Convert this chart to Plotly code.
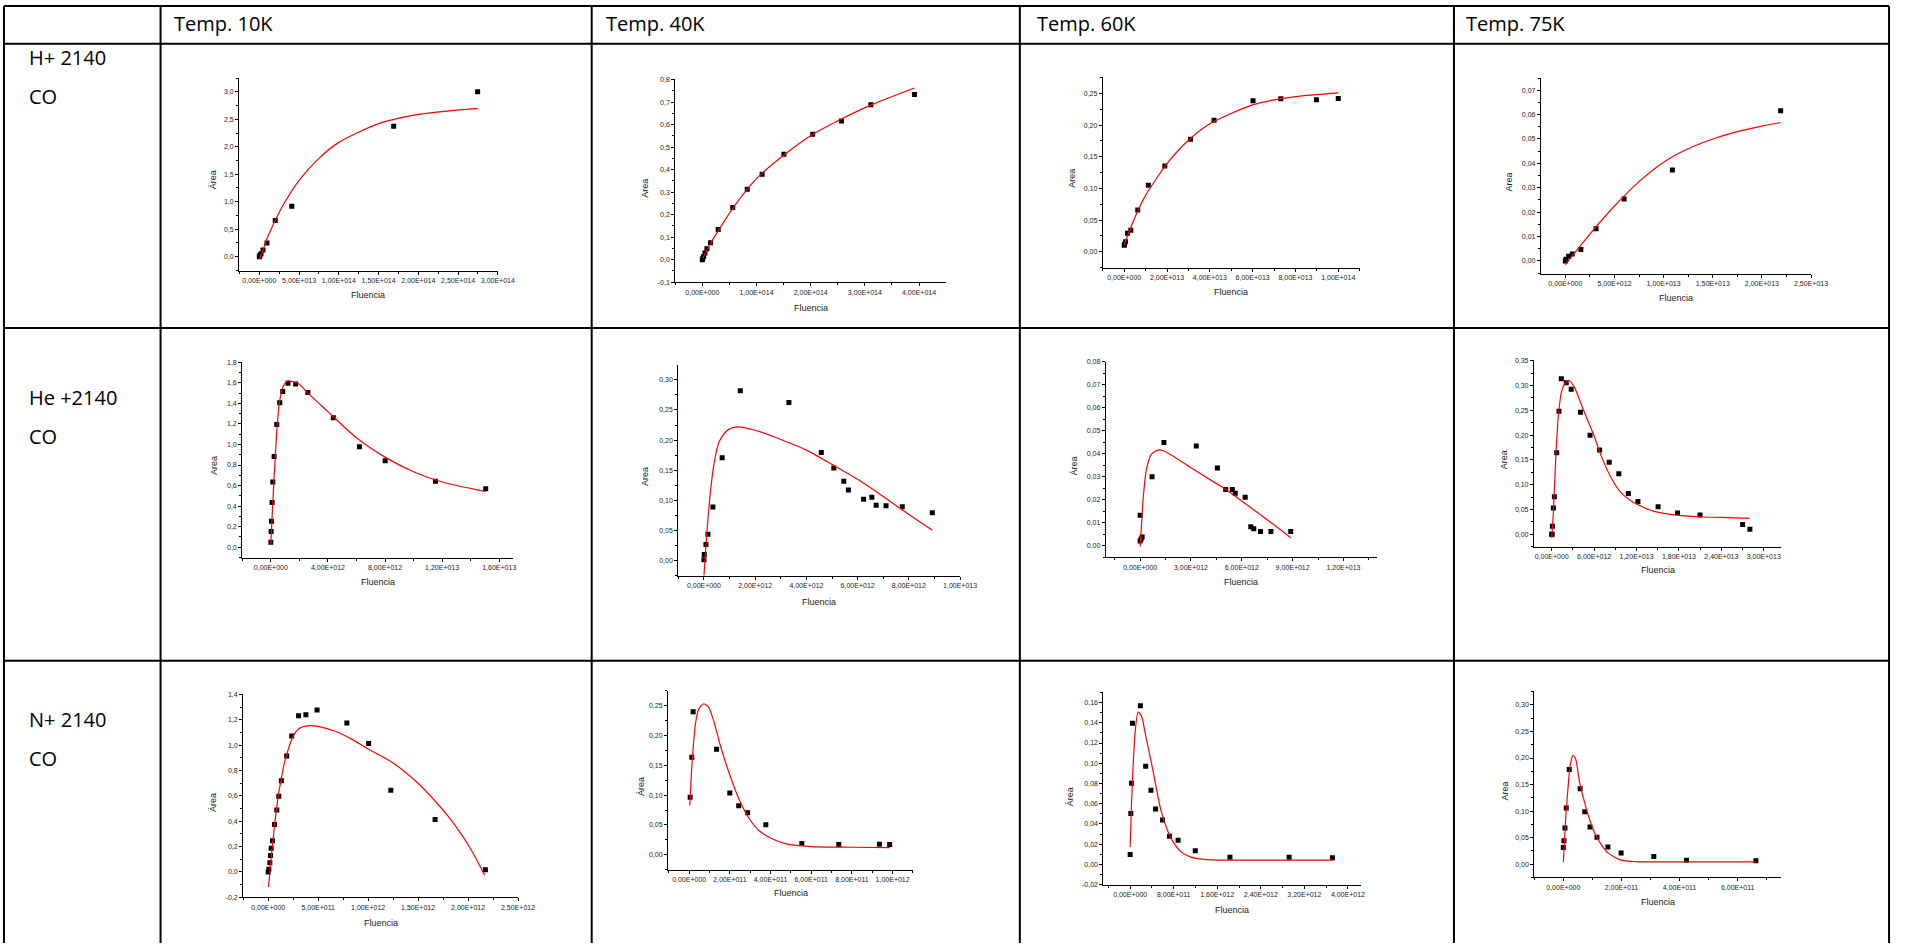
import plotly.graph_objects as go

W, H = 1910, 946

# ---------------- table text ----------------
col_headers = ["Temp. 10K", "Temp. 40K", "Temp. 60K", "Temp. 75K"]
row_labels = [["H+ 2140", "CO"], ["He +2140", "CO"], ["N+ 2140", "CO"]]

# ---------------- data: H+ ----------------
h10k_x = [0, 8e11, 2.1e12, 4.6e12, 9.6e12, 2.0e13, 4.08e13, 1.69e14, 2.746e14]
h10k_y = [0.0, 0.024, 0.054, 0.12, 0.247, 0.657, 0.916, 2.373, 3.0]
h10k_fit_x = [0, 4e12, 1e13, 2e13, 3e13, 5e13, 7.5e13, 1e14, 1.5e14, 2e14, 2.746e14]
h10k_fit_y = [-0.04, 0.1, 0.34, 0.657, 0.94, 1.39, 1.79, 2.08, 2.42, 2.59, 2.70]

h40k_x = [0, 6e11, 2.4e12, 4.9e12, 8.5e12, 1.52e13, 2.93e13, 5.61e13, 8.29e13, 1.104e14,
          1.506e14, 2.037e14, 2.567e14, 3.11e14, 3.915e14]
h40k_y = [0.0, 0.0044, 0.0147, 0.0294, 0.0485, 0.075, 0.1338, 0.2324, 0.3132, 0.3794,
          0.4691, 0.5574, 0.6162, 0.6882, 0.7338]
h40k_fit_x = [1e12, 1.5e13, 2.93e13, 5.61e13, 1e14, 1.506e14, 2e14, 2.567e14, 3.11e14, 3.915e14]
h40k_fit_y = [0.008, 0.072, 0.128, 0.228, 0.36, 0.465, 0.551, 0.625, 0.687, 0.763]

h60k_x = [0, 1.5e11, 6.2e11, 1.54e12, 3.09e12, 6.33e12, 1.127e13, 1.898e13, 3.102e13, 4.198e13,
          6.019e13, 7.315e13, 8.981e13, 1.0e14]
h60k_y = [0.0105, 0.0115, 0.0157, 0.0293, 0.034, 0.0659, 0.1051, 0.1355, 0.1778, 0.2076,
          0.2385, 0.2416, 0.24, 0.2422]
h60k_fit_x = [0, 5e12, 1e13, 2e13, 3e13, 4e13, 6e13, 8e13, 1e14]
h60k_fit_y = [0.011, 0.054, 0.089, 0.139, 0.176, 0.202, 0.232, 0.245, 0.251]

h75k_x = [0, 6.7e10, 3.4e11, 7.1e11, 1.58e12, 3.13e12, 5.98e12, 1.089e13, 2.191e13]
h75k_y = [0.0, 0.0007, 0.0019, 0.0028, 0.0047, 0.0132, 0.0254, 0.0373, 0.0616]
h75k_fit_x = [0, 2.5e12, 5e12, 7.5e12, 1e13, 1.25e13, 1.5e13, 1.75e13, 2e13, 2.19e13]
h75k_fit_y = [-0.0015, 0.011, 0.0225, 0.0325, 0.0405, 0.046, 0.050, 0.053, 0.0553, 0.0567]

# ---------------- data: He ----------------
he10k_x = [0, 2.3e10, 4.6e10, 9.3e10, 1.39e11, 2.32e11, 4.17e11, 6.25e11, 8.34e11, 1.204e12,
           1.737e12, 2.593e12, 4.376e12, 6.205e12, 8.012e12, 1.1531e13, 1.5051e13]
he10k_y = [0.048, 0.152, 0.252, 0.435, 0.635, 0.884, 1.194, 1.406, 1.516, 1.597,
           1.59, 1.506, 1.261, 0.977, 0.842, 0.642, 0.568]
he10k_fit_x = [0, 1.16e11, 3e11, 4.6e11, 6.25e11, 8.6e11, 1.2e12, 1.5e12, 2e12, 2.6e12,
               4e12, 6e12, 8e12, 1e13, 1.2e13, 1.505e13]
he10k_fit_y = [0.03, 0.371, 0.855, 1.21, 1.43, 1.565, 1.62, 1.613, 1.587, 1.5,
               1.32, 1.065, 0.877, 0.735, 0.635, 0.542]

he40k_x = [0, 1.3e10, 7.7e10, 1.55e11, 3.48e11, 7.1e11, 1.419e12, 3.316e12, 4.581e12, 5.071e12,
           5.458e12, 5.639e12, 6.232e12, 6.555e12, 6.723e12, 7.11e12, 7.742e12, 8.916e12]
he40k_y = [0.0011, 0.0099, 0.0264, 0.0435, 0.0886, 0.1706, 0.2818, 0.2626, 0.1794, 0.1536,
           0.1316, 0.1172, 0.1018, 0.1051, 0.0919, 0.0908, 0.0892, 0.0793]
he40k_fit_x = [0, 1.2e11, 2.5e11, 3.9e11, 5.8e11, 9e11, 1.3e12, 2e12, 3e12, 4e12,
               5e12, 6e12, 7e12, 8e12, 8.92e12]
he40k_fit_y = [-0.025, 0.05, 0.113, 0.16, 0.196, 0.216, 0.222, 0.2163, 0.201, 0.1833,
               0.1596, 0.1349, 0.1062, 0.0765, 0.0501]

he60k_x = [0, 0, 5.8e10, 1.17e11, 7.02e11, 1.404e12, 3.314e12, 4.561e12, 5.049e12, 5.439e12,
           5.614e12, 6.199e12, 6.53e12, 6.706e12, 7.105e12, 7.719e12, 8.889e12]
he60k_y = [0.0134, 0.0022, 0.003, 0.0039, 0.0301, 0.045, 0.0435, 0.0339, 0.0245, 0.0245,
           0.0229, 0.0212, 0.0084, 0.0075, 0.0063, 0.0063, 0.0063]
he60k_fit_x = [0, 7.8e10, 1.75e11, 3.7e11, 6.6e11, 1.05e12, 1.44e12, 3e12, 4.5e12, 5.05e12,
               6e12, 7.5e12, 8.89e12]
he60k_fit_y = [-0.0003, 0.0088, 0.0203, 0.0333, 0.0398, 0.0417, 0.0412, 0.034, 0.0271, 0.0247,
               0.0195, 0.0114, 0.0036]

he75k_x = [0, 4.7e10, 9.3e10, 2.34e11, 3.74e11, 7.01e11, 1.028e12, 1.355e12, 2.056e12, 2.757e12,
           4.065e12, 5.421e12, 6.776e12, 8.131e12, 9.486e12, 1.0841e13, 1.2196e13, 1.5047e13,
           1.7804e13, 2.0981e13, 2.7009e13, 2.8037e13]
he75k_y = [0.0, 0.0, 0.016, 0.0528, 0.0755, 0.1643, 0.2478, 0.3133, 0.3053, 0.2926,
           0.2458, 0.1997, 0.1697, 0.145, 0.1222, 0.0822, 0.0661, 0.0554,
           0.0428, 0.0387, 0.0194, 0.010]
he75k_fit_x = [0, 2.3e11, 5.6e11, 9.3e11, 1.4e12, 1.96e12, 2.48e12, 3.27e12, 4.2e12, 5.14e12,
               6e12, 7.0e12, 8.4e12, 9.8e12, 1.2e13, 1.45e13, 1.8e13, 2.15e13, 2.4e13, 2.8e13]
he75k_fit_y = [-0.0073, 0.044, 0.151, 0.238, 0.288, 0.306, 0.31, 0.2946, 0.261, 0.228,
               0.198, 0.158, 0.114, 0.084, 0.0608, 0.046, 0.038, 0.0347, 0.034, 0.032]

# ---------------- data: N+ ----------------
n10k_x = [0, 6.6e9, 1.65e10, 2.3e10, 3e10, 4.3e10, 6.3e10, 8.6e10, 1.06e11, 1.32e11,
          1.85e11, 2.35e11, 3.04e11, 3.77e11, 4.89e11, 7.87e11, 1.005e12, 1.227e12, 1.67e12, 2.173e12]
n10k_y = [0.0, 0.022, 0.072, 0.129, 0.187, 0.247, 0.375, 0.488, 0.597, 0.72,
          0.914, 1.073, 1.233, 1.241, 1.277, 1.175, 1.013, 0.644, 0.414, 0.017]
n10k_fit_x = [3e9, 1.65e10, 3.3e10, 5.3e10, 7.6e10, 1.03e11, 1.32e11, 1.62e11, 2.02e11, 2.48e11,
              3.07e11, 4.07e11, 5e11, 6.7e11, 8.3e11, 1e12, 1.25e12, 1.5e12, 1.67e12, 1.8e12,
              1.93e12, 2.03e12, 2.1e12, 2.166e12]
n10k_fit_y = [-0.119, 0.0, 0.14, 0.29, 0.45, 0.61, 0.74, 0.86, 0.97, 1.07,
              1.13, 1.154, 1.149, 1.11, 1.05, 0.97, 0.86, 0.70, 0.56, 0.44,
              0.30, 0.175, 0.075, -0.025]

n40k_x = [4.9e9, 1.3e10, 1.95e10, 1.347e11, 1.997e11, 2.435e11, 2.873e11, 3.766e11, 5.536e11,
          7.354e11, 9.351e11, 9.854e11]
n40k_y = [0.0965, 0.1635, 0.2395, 0.1768, 0.1037, 0.082, 0.0704, 0.0504, 0.0188,
          0.0172, 0.0177, 0.0172]
n40k_fit_x = [3.2e9, 9.7e9, 1.95e10, 3.1e10, 4.7e10, 7.1e10, 9.6e10, 1.2e11, 1.53e11, 2e11,
              2.5e11, 2.99e11, 3.47e11, 4e11, 4.77e11, 6e11, 8e11, 9.85e11]
n40k_fit_y = [0.0826, 0.128, 0.178, 0.2195, 0.244, 0.253, 0.247, 0.225, 0.1835, 0.1336,
              0.0892, 0.0588, 0.0394, 0.0283, 0.0183, 0.0139, 0.0127, 0.0122]

n60k_x = [0, 1.2e10, 2.4e10, 4.2e10, 1.88e11, 2.85e11, 3.82e11, 4.67e11, 5.95e11, 7.22e11,
          8.8e11, 1.196e12, 1.833e12, 2.92e12, 3.715e12]
n60k_y = [0.0098, 0.0504, 0.0802, 0.1394, 0.1568, 0.0969, 0.0733, 0.0547, 0.0439, 0.0278,
          0.0239, 0.0134, 0.0072, 0.0072, 0.0065]
n60k_fit_x = [0, 2.4e10, 5.5e10, 9.7e10, 1.46e11, 2.06e11, 2.97e11, 3.88e11, 4.8e11, 5.7e11,
              6.92e11, 8e11, 9.35e11, 1.117e12, 1.36e12, 1.6e12, 2.4e12, 3.73e12]
n60k_fit_y = [0.017, 0.0589, 0.0982, 0.134, 0.1506, 0.147, 0.124, 0.101, 0.0753, 0.0524,
              0.0327, 0.0213, 0.0124, 0.0072, 0.0049, 0.0043, 0.0043, 0.0043]

n75k_x = [0, 2.3e9, 5.7e9, 1.02e10, 2.05e10, 5.8e10, 7.39e10, 9.2e10, 1.159e11, 1.534e11,
          1.989e11, 3.114e11, 4.239e11, 6.625e11]
n75k_y = [0.0312, 0.0443, 0.068, 0.106, 0.1784, 0.1422, 0.0986, 0.0699, 0.0505, 0.0324,
          0.0212, 0.0143, 0.0075, 0.0062]
n75k_fit_x = [0, 3.4e9, 9.1e9, 1.7e10, 2.39e10, 3.3e10, 4.2e10, 5.68e10, 7.39e10, 9.09e10,
              1.08e11, 1.307e11, 1.534e11, 2e11, 2.56e11, 4e11, 6.625e11]
n75k_fit_y = [0.0037, 0.0368, 0.093, 0.149, 0.1865, 0.205, 0.199, 0.152, 0.115, 0.0836,
              0.0586, 0.0368, 0.0212, 0.0075, 0.0044, 0.0044, 0.0044]

# ---------------- tick labels ----------------
h10k_xt = [0, 5e13, 1e14, 1.5e14, 2e14, 2.5e14, 3e14]
h10k_xl = ["0,00E+000", "5,00E+013", "1,00E+014", "1,50E+014", "2,00E+014", "2,50E+014", "3,00E+014"]
h10k_yt = [0, 0.5, 1.0, 1.5, 2.0, 2.5, 3.0]
h10k_yl = ["0,0", "0,5", "1,0", "1,5", "2,0", "2,5", "3,0"]

h40k_xt = [0, 1e14, 2e14, 3e14, 4e14]
h40k_xl = ["0,00E+000", "1,00E+014", "2,00E+014", "3,00E+014", "4,00E+014"]
h40k_yt = [-0.1, 0, 0.1, 0.2, 0.3, 0.4, 0.5, 0.6, 0.7, 0.8]
h40k_yl = ["-0,1", "0,0", "0,1", "0,2", "0,3", "0,4", "0,5", "0,6", "0,7", "0,8"]

h60k_xt = [0, 2e13, 4e13, 6e13, 8e13, 1e14]
h60k_xl = ["0,00E+000", "2,00E+013", "4,00E+013", "6,00E+013", "8,00E+013", "1,00E+014"]
h60k_yt = [0, 0.05, 0.10, 0.15, 0.20, 0.25]
h60k_yl = ["0,00", "0,05", "0,10", "0,15", "0,20", "0,25"]

h75k_xt = [0, 5e12, 1e13, 1.5e13, 2e13, 2.5e13]
h75k_xl = ["0,00E+000", "5,00E+012", "1,00E+013", "1,50E+013", "2,00E+013", "2,50E+013"]
h75k_yt = [0, 0.01, 0.02, 0.03, 0.04, 0.05, 0.06, 0.07]
h75k_yl = ["0,00", "0,01", "0,02", "0,03", "0,04", "0,05", "0,06", "0,07"]

he10k_xt = [0, 4e12, 8e12, 1.2e13, 1.6e13]
he10k_xl = ["0,00E+000", "4,00E+012", "8,00E+012", "1,20E+013", "1,60E+013"]
he10k_yt = [0, 0.2, 0.4, 0.6, 0.8, 1.0, 1.2, 1.4, 1.6, 1.8]
he10k_yl = ["0,0", "0,2", "0,4", "0,6", "0,8", "1,0", "1,2", "1,4", "1,6", "1,8"]

he40k_xt = [0, 2e12, 4e12, 6e12, 8e12, 1e13]
he40k_xl = ["0,00E+000", "2,00E+012", "4,00E+012", "6,00E+012", "8,00E+012", "1,00E+013"]
he40k_yt = [0, 0.05, 0.10, 0.15, 0.20, 0.25, 0.30]
he40k_yl = ["0,00", "0,05", "0,10", "0,15", "0,20", "0,25", "0,30"]

he60k_xt = [0, 3e12, 6e12, 9e12, 1.2e13]
he60k_xl = ["0,00E+000", "3,00E+012", "6,00E+012", "9,00E+012", "1,20E+013"]
he60k_yt = [0, 0.01, 0.02, 0.03, 0.04, 0.05, 0.06, 0.07, 0.08]
he60k_yl = ["0,00", "0,01", "0,02", "0,03", "0,04", "0,05", "0,06", "0,07", "0,08"]

he75k_xt = [0, 6e12, 1.2e13, 1.8e13, 2.4e13, 3e13]
he75k_xl = ["0,00E+000", "6,00E+012", "1,20E+013", "1,80E+013", "2,40E+013", "3,00E+013"]
he75k_yt = [0, 0.05, 0.10, 0.15, 0.20, 0.25, 0.30, 0.35]
he75k_yl = ["0,00", "0,05", "0,10", "0,15", "0,20", "0,25", "0,30", "0,35"]

n10k_xt = [0, 5e11, 1e12, 1.5e12, 2e12, 2.5e12]
n10k_xl = ["0,00E+000", "5,00E+011", "1,00E+012", "1,50E+012", "2,00E+012", "2,50E+012"]
n10k_yt = [-0.2, 0, 0.2, 0.4, 0.6, 0.8, 1.0, 1.2, 1.4]
n10k_yl = ["-0,2", "0,0", "0,2", "0,4", "0,6", "0,8", "1,0", "1,2", "1,4"]

n40k_xt = [0, 2e11, 4e11, 6e11, 8e11, 1e12]
n40k_xl = ["0,00E+000", "2,00E+011", "4,00E+011", "6,00E+011", "8,00E+011", "1,00E+012"]
n40k_yt = [0, 0.05, 0.10, 0.15, 0.20, 0.25]
n40k_yl = ["0,00", "0,05", "0,10", "0,15", "0,20", "0,25"]

n60k_xt = [0, 8e11, 1.6e12, 2.4e12, 3.2e12, 4e12]
n60k_xl = ["0,00E+000", "8,00E+011", "1,60E+012", "2,40E+012", "3,20E+012", "4,00E+012"]
n60k_yt = [-0.02, 0, 0.02, 0.04, 0.06, 0.08, 0.10, 0.12, 0.14, 0.16]
n60k_yl = ["-0,02", "0,00", "0,02", "0,04", "0,06", "0,08", "0,10", "0,12", "0,14", "0,16"]

n75k_xt = [0, 2e11, 4e11, 6e11]
n75k_xl = ["0,00E+000", "2,00E+011", "4,00E+011", "6,00E+011"]
n75k_yt = [0, 0.05, 0.10, 0.15, 0.20, 0.25, 0.30]
n75k_yl = ["0,00", "0,05", "0,10", "0,15", "0,20", "0,25", "0,30"]

# ---------------- panel layout (pixel boxes: left, top, right, bottom) ----------------
panels = [
    dict(x=h10k_x, y=h10k_y, fx=h10k_fit_x, fy=h10k_fit_y, xt=h10k_xt, xl=h10k_xl, yt=h10k_yt, yl=h10k_yl,
         box=(241.3, 75, 502.3, 269.3), xr=[-2.54e13, 3.0e14], yr=[-0.253, 3.26], xm=2.5e13, ym=0.25,
         ttl="Área", ax=215, ay=178.3, fy_t=294),
    dict(x=h40k_x, y=h40k_y, fx=h40k_fit_x, fy=h40k_fit_y, xt=h40k_xt, xl=h40k_xl, yt=h40k_yt, yl=h40k_yl,
         box=(681.3, 76, 954.3, 281), xr=[-0.5e14, 4.494e14], yr=[-0.1, 0.805], xm=5e13, ym=0.05,
         ttl="Area", ax=650, ay=186.7, fy_t=307.3),
    dict(x=h60k_x, y=h60k_y, fx=h60k_fit_x, fy=h60k_fit_y, xt=h60k_xt, xl=h60k_xl, yt=h60k_yt, yl=h60k_yl,
         box=(1112.7, 74.7, 1372.3, 266.7), xr=[-1.0e13, 1.102e14], yr=[-0.0256, 0.2756], xm=1e13, ym=0.025,
         ttl="Area", ax=1081.7, ay=176.7, fy_t=290.7),
    dict(x=h75k_x, y=h75k_y, fx=h75k_fit_x, fy=h75k_fit_y, xt=h75k_xt, xl=h75k_xl, yt=h75k_yt, yl=h75k_yl,
         box=(1554.7, 75, 1827.3, 272.3), xr=[-2.49e12, 2.5e13], yr=[-0.0052, 0.0752], xm=2.5e12, ym=0.005,
         ttl="Area", ax=1522.3, ay=180, fy_t=297.3),
    dict(x=he10k_x, y=he10k_y, fx=he10k_fit_x, fy=he10k_fit_y, xt=he10k_xt, xl=he10k_xl, yt=he10k_yt, yl=he10k_yl,
         box=(244.3, 361, 517.7, 558.3), xr=[-2.01e12, 1.697e13], yr=[-0.103, 1.806], xm=2e12, ym=0.1,
         ttl="Area", ax=216, ay=466, fy_t=582.7),
    dict(x=he40k_x, y=he40k_y, fx=he40k_fit_x, fy=he40k_fit_y, xt=he40k_xt, xl=he40k_xl, yt=he40k_yt, yl=he40k_yl,
         box=(684.3, 364.3, 968.7, 576.3), xr=[-1.006e12, 1.0e13], yr=[-0.0253, 0.3248], xm=1e12, ym=0.025,
         ttl="Area", ax=650, ay=476.7, fy_t=603.3),
    dict(x=he60k_x, y=he60k_y, fx=he60k_fit_x, fy=he60k_fit_y, xt=he60k_xt, xl=he60k_xl, yt=he60k_yt, yl=he60k_yl,
         box=(1115.7, 361, 1389, 558), xr=[-2.03e12, 1.396e13], yr=[-0.005, 0.0801], xm=1.5e12, ym=0.005,
         ttl="Área", ax=1084, ay=466, fy_t=582.7),
    dict(x=he75k_x, y=he75k_y, fx=he75k_fit_x, fy=he75k_fit_y, xt=he75k_xt, xl=he75k_xl, yt=he75k_yt, yl=he75k_yl,
         box=(1547.7, 359.3, 1797.3, 547.3), xr=[-2.52e12, 3.248e13], yr=[-0.0254, 0.3513], xm=3e12, ym=0.025,
         ttl="Area", ax=1518.3, ay=459.3, fy_t=571),
    dict(x=n10k_x, y=n10k_y, fx=n10k_fit_x, fy=n10k_fit_y, xt=n10k_xt, xl=n10k_xl, yt=n10k_yt, yl=n10k_yl,
         box=(245.3, 695.3, 522.7, 900), xr=[-2.51e11, 2.5e12], yr=[-0.2, 1.405], xm=2.5e11, ym=0.1,
         ttl="Área", ax=214.3, ay=804.7, fy_t=926.3),
    dict(x=n40k_x, y=n40k_y, fx=n40k_fit_x, fy=n40k_fit_y, xt=n40k_xt, xl=n40k_xl, yt=n40k_yt, yl=n40k_yl,
         box=(674, 692, 921.3, 872.3), xr=[-1.04e11, 1.1006e12], yr=[-0.025, 0.275], xm=1e11, ym=0.025,
         ttl="Área", ax=646, ay=788.7, fy_t=896),
    dict(x=n60k_x, y=n60k_y, fx=n60k_fit_x, fy=n60k_fit_y, xt=n60k_xt, xl=n60k_xl, yt=n60k_yt, yl=n60k_yl,
         box=(1113.3, 693.7, 1373.7, 887.3), xr=[-4.92e11, 4.249e12], yr=[-0.02, 0.1701], xm=4e11, ym=0.01,
         ttl="Área", ax=1079.3, ay=798.7, fy_t=913),
    dict(x=n75k_x, y=n75k_y, fx=n75k_fit_x, fy=n75k_fit_y, xt=n75k_xt, xl=n75k_xl, yt=n75k_yt, yl=n75k_yl,
         box=(1548, 692, 1797.3, 880), xr=[-1e11, 7.5e11], yr=[-0.025, 0.327], xm=1e11, ym=0.025,
         ttl="Area", ax=1518.3, ay=792.7, fy_t=904.3),
]


def px(v):
    return v / W


def py(v):
    return 1 - v / H


fig = go.Figure()
layout = {}
annotations = []
tick_font = dict(family="Liberation Sans, Arial, sans-serif", size=7, color="#222222")
title_font = dict(family="Liberation Sans, Arial, sans-serif", size=9, color="#222222")

for i, p in enumerate(panels, start=1):
    sx = "" if i == 1 else str(i)
    L, T, R, B = p["box"]
    fig.add_trace(go.Scatter(x=p["x"], y=p["y"], mode="markers",
                             marker=dict(symbol="square", size=5, color="black", line=dict(width=0)),
                             xaxis="x" + sx, yaxis="y" + sx, showlegend=False, hoverinfo="skip"))
    fig.add_trace(go.Scatter(x=p["fx"], y=p["fy"], mode="lines",
                             line=dict(color="#ff0000", width=1.2, shape="spline", smoothing=0.7),
                             xaxis="x" + sx, yaxis="y" + sx, showlegend=False, hoverinfo="skip"))
    common = dict(showline=True, linecolor="black", linewidth=1, ticks="outside", ticklen=3,
                  tickwidth=1, tickcolor="black", tickmode="array", showgrid=False, zeroline=False,
                  tickfont=tick_font, fixedrange=True)
    layout["xaxis" + sx] = dict(common, domain=[px(L), px(R)], anchor="y" + sx, range=p["xr"],
                               tickvals=p["xt"], ticktext=p["xl"],
                               minor=dict(ticks="outside", ticklen=2, tickmode="linear", tick0=0,
                                          dtick=p["xm"], tickcolor="black", showgrid=False))
    layout["yaxis" + sx] = dict(common, domain=[py(B), py(T)], anchor="x" + sx, range=p["yr"],
                               tickvals=p["yt"], ticktext=p["yl"],
                               minor=dict(ticks="outside", ticklen=2, tickmode="linear", tick0=0,
                                          dtick=p["ym"], tickcolor="black", showgrid=False))
    annotations.append(dict(text="Fluencia", x=px((L + R) / 2), y=py(p["fy_t"]), xref="paper", yref="paper",
                            showarrow=False, xanchor="center", yanchor="middle", font=title_font))
    annotations.append(dict(text=p["ttl"], x=px(p["ax"]), y=py(p["ay"]), xref="paper", yref="paper",
                            showarrow=False, xanchor="center", yanchor="middle", textangle=-90,
                            font=title_font))

# table text
head_font = dict(family="Open Sans, Noto Sans, sans-serif", size=20, color="black")
col_x = [174, 609, 1044, 1477]
for cx, t in zip(col_x, col_headers):
    annotations.append(dict(text=t, x=px(cx), y=py(21), xref="paper", yref="paper", showarrow=False,
                            xanchor="left", yanchor="middle", font=head_font))
row_y = [(55, 94), (397, 436), (721, 760)]
for (y1, y2), lab in zip(row_y, row_labels):
    annotations.append(dict(text=lab[0], x=px(27), y=py(y1), xref="paper", yref="paper", showarrow=False,
                            xanchor="left", yanchor="middle", font=head_font))
    annotations.append(dict(text=lab[1], x=px(27), y=py(y2), xref="paper", yref="paper", showarrow=False,
                            xanchor="left", yanchor="middle", font=head_font))

# table grid
shapes = []
vlines = [4, 162, 597, 1029, 1467, 1906]
hlines = [3, 41, 327, 662]
for vx in vlines:
    shapes.append(dict(type="line", xref="paper", yref="paper", x0=px(vx), x1=px(vx), y0=py(3), y1=py(946),
                       line=dict(color="black", width=2)))
for hy in hlines:
    shapes.append(dict(type="line", xref="paper", yref="paper", x0=px(4), x1=px(1906), y0=py(hy), y1=py(hy),
                       line=dict(color="black", width=2)))

fig.update_layout(width=W, height=H, margin=dict(l=0, r=0, t=0, b=0), autosize=False,
                  paper_bgcolor="white", plot_bgcolor="white", showlegend=False,
                  annotations=annotations, shapes=shapes, **layout)

fig.write_html("out.html", config={"displayModeBar": False})
